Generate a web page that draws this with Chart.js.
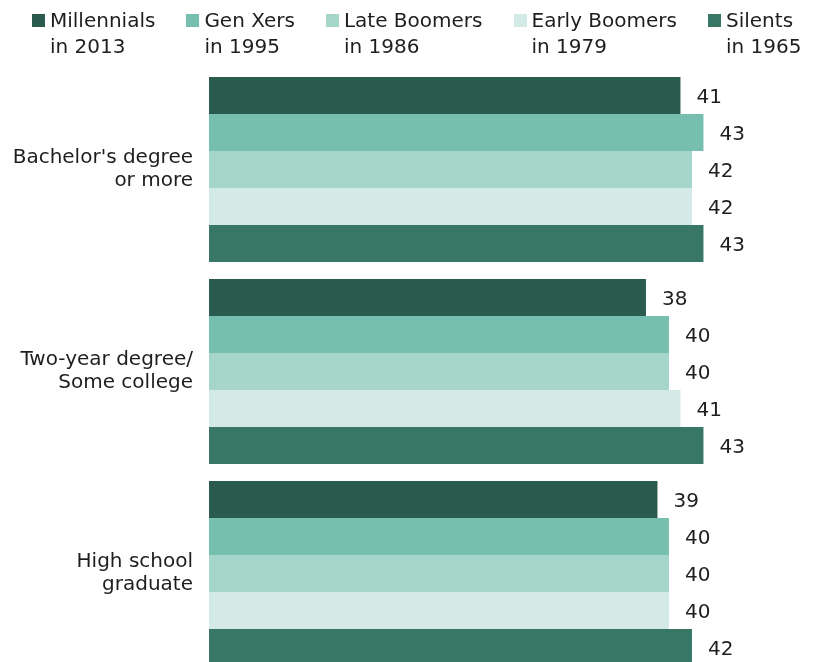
<!DOCTYPE html>
<html>
<head>
<meta charset="utf-8">
<script src="https://cdn.jsdelivr.net/npm/chart.js@4.4.0/dist/chart.umd.min.js"></script>
<style>
body{margin:0;background:#fff;overflow:hidden;font-family:"DejaVu Sans",sans-serif;}
#wrap{position:relative;width:815px;height:662px;overflow:hidden;}
#legend{position:absolute;left:32px;top:7px;display:flex;gap:31px;font-size:20px;line-height:26px;color:#1e1e1e;z-index:2;}
.item{display:flex;align-items:flex-start;}
.sw{width:13px;height:13px;margin-top:7px;margin-right:5px;flex:none;}
#chart{position:absolute;left:0;top:0;}
</style>
</head>
<body>
<div id="wrap">
<div id="legend"></div>
<canvas id="chart" width="815" height="680"></canvas>
</div>
<script>

let categories = [["Bachelor's degree","or more"],["Two-year degree/","Some college"],["High school","graduate"]];

let seriesNames = [["Millennials","in 2013"],["Gen Xers","in 1995"],["Late Boomers","in 1986"],["Early Boomers","in 1979"],["Silents","in 1965"]];

let millennials = [41,38,39];
let genXers = [43,40,40];
let lateBoomers = [42,40,40];
let earlyBoomers = [42,41,40];
let silents = [43,43,42];

let colors = ["#2b5a4f","#76bfae","#a6d5c9","#d3eae6","#387766"];

let allSeries = [millennials,genXers,lateBoomers,earlyBoomers,silents];

/* LEGEND */
let legend = document.getElementById("legend");
seriesNames.forEach((name,i)=>{
let item = document.createElement("div");
item.className = "item";
item.innerHTML = '<div class="sw" style="background:'+colors[i]+'"></div><div>'+name[0]+'<br>'+name[1]+'</div>';
legend.appendChild(item);
});

/* VALUE LABELS */
let valueLabels = {
id:"valueLabels",
afterDatasetsDraw(chart){
let ctx = chart.ctx;
ctx.save();
ctx.font = '20px "DejaVu Sans", sans-serif';
ctx.fillStyle = "#1e1e1e";
ctx.textBaseline = "middle";
ctx.textAlign = "left";
chart.data.datasets.forEach((ds,i)=>{
chart.getDatasetMeta(i).data.forEach((bar,j)=>{
ctx.fillText(ds.data[j], bar.x+16, bar.y+2);
});
});
ctx.restore();
}
};

let datasets = allSeries.map((vals,i)=>{
return {
label:seriesNames[i].join(" "),
data:vals,
backgroundColor:colors[i],
borderWidth:0,
categoryPercentage:0.916,
barPercentage:1
};
});

let ctx = document.getElementById("chart").getContext("2d");

new Chart(ctx,{
type:"bar",
data:{labels:categories,datasets:datasets},
options:{
indexAxis:"y",
responsive:false,
animation:false,
layout:{padding:{top:68.5,bottom:5.5,left:0,right:0}},
plugins:{legend:{display:false},tooltip:{enabled:false}},
scales:{
x:{
display:false,
min:0,
max:52.7
},
y:{
grid:{display:false,drawTicks:false},
border:{display:false},
afterFit(scale){
scale.width = 209;
scale.paddingTop = 0;
scale.paddingBottom = 0;
},
ticks:{
padding:16,
color:"#1e1e1e",
font:{family:'"DejaVu Sans", sans-serif',size:20,lineHeight:1.15},
crossAlign:"near"
}
}
}
},
plugins:[valueLabels]
});

</script>
</body>
</html>
